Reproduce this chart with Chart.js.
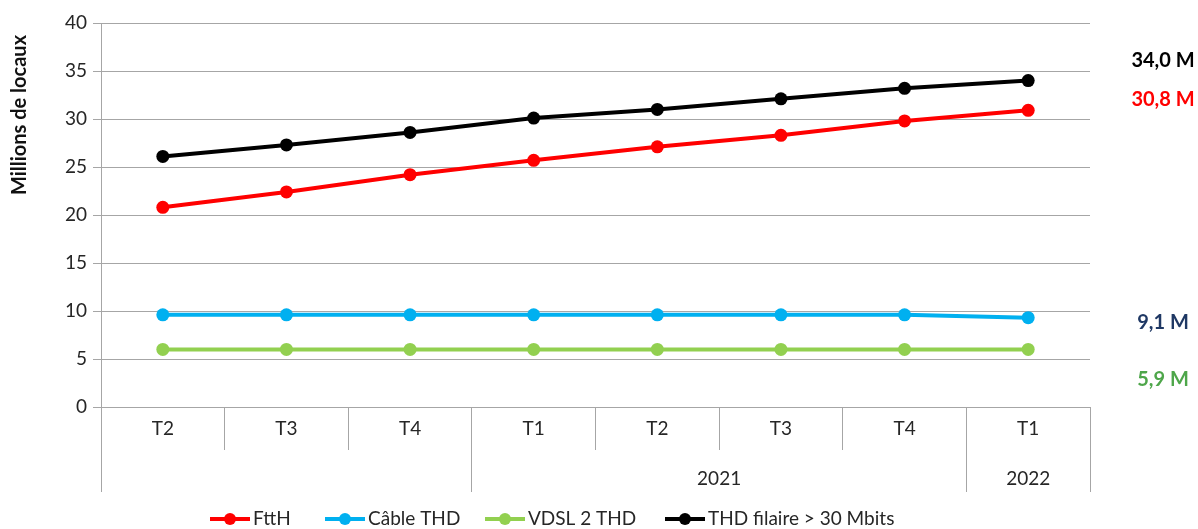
<!DOCTYPE html>
<html>
<head>
<meta charset="utf-8">
<script src="https://cdn.jsdelivr.net/npm/chart.js@4/dist/chart.umd.min.js"></script>
<style>
  html, body { margin: 0; padding: 0; background: #fff; }
  #wrap { width: 1198px; height: 529px; position: relative; }
</style>
</head>
<body>
<div id="wrap"><canvas id="myChart"></canvas></div>
<script>
// donnees
var trimestres = ['T2', 'T3', 'T4', 'T1', 'T2', 'T3', 'T4', 'T1'];
var annees = ['', '2021', '2022'];
var anneesDebut = [0, 3, 7];   // index du premier trimestre de chaque annee
var anneesFin = [2, 6, 7];
var fttH = [20.8, 22.4, 24.2, 25.7, 27.1, 28.3, 29.8, 30.9];
var cable = [9.6, 9.6, 9.6, 9.6, 9.6, 9.6, 9.6, 9.3];
var vdsl = [6.0, 6.0, 6.0, 6.0, 6.0, 6.0, 6.0, 6.0];
var thdFilaire = [26.1, 27.3, 28.6, 30.1, 31.0, 32.1, 33.2, 34.0];
var noms = ['FttH', 'Câble THD', 'VDSL 2 THD', 'THD filaire > 30 Mbits'];
var etiquettesFin = ['34,0 M', '30,8 M', '9,1 M', '5,9 M'];
var yTicks = [0, 5, 10, 15, 20, 25, 30, 35, 40];

var couleurs = ['#FF0000', '#00B0F0', '#92D050', '#000000'];
var couleursFin = ['#000000', '#FF0000', '#1F3864', '#4EA64A'];
var posFin = [36.1, 32.0, 8.8, 2.9];
var police = 'Lato, "Open Sans", sans-serif';
var gris = '#A6A6A6';

function dataset(label, data, color) {
  return {
    label: label,
    data: data,
    borderColor: color,
    backgroundColor: color,
    borderWidth: 4,
    pointRadius: 6.5,
    pointHoverRadius: 6.5,
    pointBorderWidth: 0,
    tension: 0
  };
}

function aligne(p) {
  return Math.round(p - 0.5) + 0.5;
}

// axe des x a deux niveaux, etiquettes de fin et legende
var decor = {
  id: 'decor',
  afterDraw: function(chart) {
    var ctx = chart.ctx;
    var x = chart.scales.x;
    var y = chart.scales.y;
    var area = chart.chartArea;
    var pas = x.getPixelForValue(1) - x.getPixelForValue(0);
    ctx.save();

    // separateurs des annees (prolongent les traits des trimestres)
    ctx.strokeStyle = gris;
    ctx.lineWidth = 1;
    var bords = [];
    for (var i = 0; i < annees.length; i++) {
      bords.push(x.getPixelForValue(anneesDebut[i]) - pas / 2);
    }
    bords.push(x.getPixelForValue(trimestres.length - 1) + pas / 2);
    for (var b = 0; b < bords.length; b++) {
      var bx = aligne(bords[b]);
      ctx.beginPath();
      ctx.moveTo(bx, area.bottom + 43);
      ctx.lineTo(bx, area.bottom + 85);
      ctx.stroke();
    }

    // trimestres
    ctx.fillStyle = '#262626';
    ctx.font = '19px ' + police;
    ctx.textAlign = 'center';
    ctx.textBaseline = 'middle';
    for (var t = 0; t < trimestres.length; t++) {
      ctx.fillText(trimestres[t], x.getPixelForValue(t), area.bottom + 22);
    }
    // annees
    for (var a = 0; a < annees.length; a++) {
      var cx = (x.getPixelForValue(anneesDebut[a]) + x.getPixelForValue(anneesFin[a])) / 2;
      ctx.fillText(annees[a], cx, area.bottom + 72);
    }

    // titre de l'axe y
    ctx.save();
    ctx.translate(20, 115);
    ctx.rotate(-Math.PI / 2);
    ctx.font = 'bold 20px ' + police;
    ctx.fillStyle = '#111';
    ctx.fillText('Millions de locaux', 0, 0);
    ctx.restore();

    // etiquettes de fin
    ctx.font = 'bold 20px ' + police;
    ctx.textAlign = 'center';
    for (var e = 0; e < etiquettesFin.length; e++) {
      ctx.fillStyle = couleursFin[e];
      ctx.fillText(etiquettesFin[e], 1163, y.getPixelForValue(posFin[e]));
    }

    // legende
    ctx.font = '19px ' + police;
    ctx.textAlign = 'left';
    var lx = [210, 325, 485, 665];
    var ly = 519;
    for (var l = 0; l < noms.length; l++) {
      ctx.strokeStyle = couleurs[l];
      ctx.fillStyle = couleurs[l];
      ctx.lineWidth = 4;
      ctx.beginPath();
      ctx.moveTo(lx[l], ly);
      ctx.lineTo(lx[l] + 40, ly);
      ctx.stroke();
      ctx.beginPath();
      ctx.arc(lx[l] + 20, ly, 6, 0, Math.PI * 2);
      ctx.fill();
      ctx.fillStyle = '#262626';
      ctx.fillText(noms[l], lx[l] + 43, ly);
    }
    ctx.restore();
  }
};

var ctx = document.getElementById('myChart').getContext('2d');
var chart = new Chart(ctx, {
  type: 'line',
  data: {
    labels: trimestres,
    datasets: [
      dataset(noms[0], fttH, couleurs[0]),
      dataset(noms[1], cable, couleurs[1]),
      dataset(noms[2], vdsl, couleurs[2]),
      dataset(noms[3], thdFilaire, couleurs[3])
    ]
  },
  options: {
    responsive: true,
    maintainAspectRatio: false,
    animation: false,
    layout: { padding: { top: 23, right: 108, left: 0, bottom: 0 } },
    plugins: {
      legend: { display: false },
      tooltip: { enabled: false }
    },
    scales: {
      x: {
        offset: true,
        grid: {
          offset: true,
          drawOnChartArea: false,
          drawTicks: true,
          tickLength: 43,
          color: gris
        },
        border: { display: false },
        ticks: { display: false },
        afterFit: function(scale) { scale.height = 122; }
      },
      y: {
        min: 0,
        max: 40,
        afterBuildTicks: function(scale) {
          scale.ticks = yTicks.map(function(v) { return { value: v }; });
        },
        grid: { color: gris, lineWidth: 1, tickLength: 8 },
        border: { color: gris },
        ticks: {
          color: '#262626',
          padding: 6,
          font: { family: police, size: 19 }
        },
        afterFit: function(scale) { scale.width = 101; }
      }
    }
  },
  plugins: [decor]
});
</script>
</body>
</html>
